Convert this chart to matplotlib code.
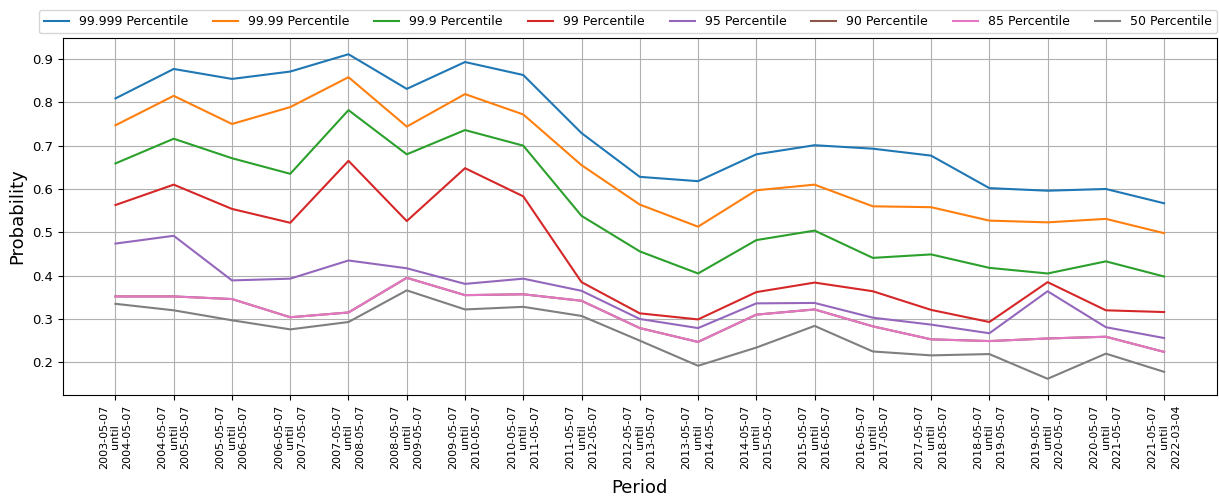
import matplotlib
matplotlib.use("Agg")
import matplotlib.pyplot as plt

starts = ["2003-05-07", "2004-05-07", "2005-05-07", "2006-05-07", "2007-05-07",
          "2008-05-07", "2009-05-07", "2010-05-07", "2011-05-07", "2012-05-07",
          "2013-05-07", "2014-05-07", "2015-05-07", "2016-05-07", "2017-05-07",
          "2018-05-07", "2019-05-07", "2020-05-07", "2021-05-07"]
ends = ["2004-05-07", "2005-05-07", "2006-05-07", "2007-05-07", "2008-05-07",
        "2009-05-07", "2010-05-07", "2011-05-07", "2012-05-07", "2013-05-07",
        "2014-05-07", "2015-05-07", "2016-05-07", "2017-05-07", "2018-05-07",
        "2019-05-07", "2020-05-07", "2021-05-07", "2022-03-04"]
periods = [s + "\nuntil\n" + e for s, e in zip(starts, ends)]

p99999 = [0.809, 0.877, 0.854, 0.871, 0.911, 0.831, 0.893, 0.863, 0.729, 0.628,
          0.618, 0.680, 0.701, 0.693, 0.677, 0.602, 0.596, 0.600, 0.567]
p9999 = [0.747, 0.815, 0.750, 0.789, 0.858, 0.744, 0.819, 0.772, 0.655, 0.564,
         0.513, 0.597, 0.610, 0.560, 0.558, 0.527, 0.523, 0.531, 0.498]
p999 = [0.659, 0.716, 0.671, 0.635, 0.782, 0.680, 0.736, 0.700, 0.538, 0.456,
        0.405, 0.482, 0.504, 0.441, 0.449, 0.418, 0.405, 0.433, 0.398]
p99 = [0.563, 0.610, 0.554, 0.522, 0.665, 0.526, 0.648, 0.583, 0.385, 0.313,
       0.299, 0.362, 0.384, 0.364, 0.321, 0.293, 0.385, 0.320, 0.316]
p95 = [0.474, 0.492, 0.389, 0.393, 0.435, 0.417, 0.381, 0.393, 0.365, 0.300,
       0.279, 0.336, 0.337, 0.303, 0.287, 0.267, 0.364, 0.281, 0.256]
p90 = [0.352, 0.352, 0.346, 0.304, 0.315, 0.395, 0.355, 0.357, 0.342, 0.279,
       0.247, 0.310, 0.322, 0.283, 0.253, 0.249, 0.255, 0.259, 0.224]
p85 = [0.352, 0.352, 0.346, 0.304, 0.315, 0.395, 0.355, 0.357, 0.342, 0.279,
       0.247, 0.310, 0.322, 0.283, 0.253, 0.249, 0.255, 0.259, 0.224]
p50 = [0.335, 0.320, 0.297, 0.276, 0.293, 0.366, 0.322, 0.328, 0.307, 0.250,
       0.192, 0.234, 0.284, 0.225, 0.216, 0.219, 0.162, 0.220, 0.178]

series = [("99.999 Percentile", p99999), ("99.99 Percentile", p9999),
          ("99.9 Percentile", p999), ("99 Percentile", p99),
          ("95 Percentile", p95), ("90 Percentile", p90),
          ("85 Percentile", p85), ("50 Percentile", p50)]

fig = plt.figure(figsize=(12.19, 5.0), dpi=100)
ax = fig.add_axes([0.0517, 0.21, 0.9463, 0.714])

for name, vals in series:
    ax.plot(periods, vals, label=name, linewidth=1.5)

ax.grid(True)
ax.set_yticks([0.2, 0.3, 0.4, 0.5, 0.6, 0.7, 0.8, 0.9])
ax.tick_params(axis="y", labelsize=9.5)
ax.tick_params(axis="x", labelsize=8, rotation=90)
ax.set_xlabel("Period", fontsize=13, labelpad=7)
ax.set_ylabel("Probability", fontsize=13)

fig.legend(loc="lower center", bbox_to_anchor=(0.515, 0.934), ncol=8,
           fontsize=9, borderaxespad=0, columnspacing=2.0)

fig.savefig("out.png", dpi=100)
